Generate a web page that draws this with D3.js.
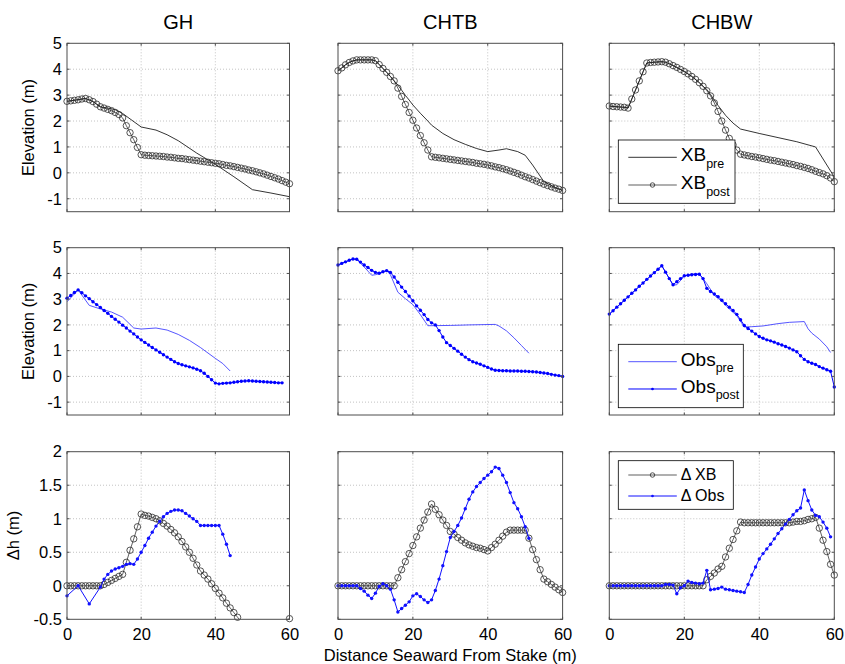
<!DOCTYPE html>
<html>
<head>
<meta charset="utf-8">
<script src="https://cdn.jsdelivr.net/npm/d3@7"></script>
<style>
  body { margin: 0; background: #fff; }
  svg { display: block; }
  text { font-family: "Liberation Sans", Arial, Helvetica, sans-serif; fill: #000; }
</style>
</head>
<body>
<svg id="chart" width="845" height="664"></svg>
<script>
// ---------- data ----------
const sites = ["GH", "CHTB", "CHBW"];
const xTicks = [0, 20, 40, 60];
const elevTicks = [-1, 0, 1, 2, 3, 4, 5];
const dhTicks = [-0.5, 0, 0.5, 1, 1.5, 2];

// model grid (m seaward of stake)
const modelDist = [0,1,2,3,4,5,6,7,8,9,10,11,12,13,14,15,16,17,18,19,20,21,22,23,24,25,26,27,28,29,30,
  31,32,33,34,35,36,37,38,39,40,41,42,43,44,45,46,47,48,49,50,51,52,53,54,55,56,57,58,59,60];

// XBeach post-storm profiles (m)
const ghXbPost = [2.76,2.78,2.80,2.82,2.85,2.87,2.82,2.75,2.65,2.55,2.50,2.45,2.40,2.33,2.25,2.12,1.82,1.55,1.28,0.98,
  0.70,0.68,0.67,0.66,0.65,0.64,0.63,0.61,0.60,0.58,0.56,0.55,0.53,0.51,0.49,0.47,0.45,0.43,0.41,0.39,
  0.37,0.35,0.32,0.29,0.27,0.24,0.21,0.18,0.15,0.11,0.08,0.04,0.00,-0.04,-0.09,-0.14,-0.19,-0.24,-0.30,-0.36,-0.42];
const chtbXbPost = [3.94,4.05,4.17,4.26,4.32,4.36,4.36,4.36,4.36,4.36,4.33,4.18,4.03,3.88,3.72,3.55,3.27,2.95,2.64,2.33,
  2.03,1.73,1.44,1.16,0.88,0.62,0.60,0.58,0.56,0.54,0.52,0.50,0.48,0.46,0.44,0.42,0.40,0.37,0.35,0.33,
  0.30,0.27,0.23,0.20,0.16,0.12,0.07,0.02,-0.03,-0.09,-0.15,-0.20,-0.26,-0.32,-0.38,-0.44,-0.49,-0.54,-0.59,-0.63,-0.68];
const chbwXbPost = [2.58,2.56,2.55,2.54,2.53,2.50,2.85,3.20,3.55,3.90,4.24,4.26,4.27,4.28,4.29,4.27,4.21,4.14,4.07,3.99,
  3.91,3.82,3.72,3.61,3.48,3.34,3.17,2.97,2.70,2.37,2.00,1.65,1.33,1.08,0.88,0.72,0.69,0.66,0.63,0.61,
  0.58,0.55,0.52,0.49,0.47,0.44,0.41,0.38,0.35,0.32,0.28,0.25,0.21,0.17,0.12,0.06,0.01,-0.04,-0.11,-0.20,-0.34];

// XBeach pre-storm profiles [distance, elevation]
const ghXbPre = [[0,2.76],[5,2.87],[7,2.75],[9,2.55],[11,2.50],[13,2.44],[15,2.29],[20,1.77],[24,1.65],[27,1.47],
  [30,1.24],[35,0.76],[40,0.33],[45,-0.15],[50,-0.65],[55,-0.78],[60,-0.92]];
const chtbXbPre = [[0,3.94],[1,4.05],[2,4.17],[3,4.26],[4,4.32],[5,4.36],[9,4.36],[10,4.33],[11,4.18],[12,4.03],
  [13,3.88],[14,3.72],[15,3.55],[16,3.39],[17,3.19],[18,2.99],[19,2.81],[20,2.62],[22,2.30],[24,2.00],[25,1.84],
  [28,1.52],[31,1.28],[34,1.10],[37,0.94],[40,0.82],[43,0.88],[45,0.93],[48,0.82],[50,0.68],[52,0.30],[55,-0.34],
  [58,-0.56],[60,-0.68]];
const chbwXbPre = [[0,2.58],[1,2.56],[2,2.55],[3,2.54],[4,2.53],[5,2.50],[6,2.85],[7,3.20],[8,3.55],[9,3.90],
  [10,4.24],[12,4.27],[14,4.29],[15,4.27],[16,4.21],[18,4.07],[20,3.91],[22,3.72],[24,3.48],[25,3.34],[26,3.22],
  [27,3.02],[29,2.60],[31,2.22],[33,1.92],[35,1.69],[40,1.52],[45,1.36],[50,1.20],[55,1.00],[60,-0.16]];

// observed post-storm profiles (same 1 m spacing, from the stake)
const ghObsPost = [3.04,3.14,3.26,3.36,3.25,3.13,3.02,2.90,2.79,2.68,2.56,2.45,2.33,2.22,2.11,1.99,1.88,1.76,1.65,1.53,
  1.42,1.32,1.22,1.12,1.03,0.94,0.84,0.75,0.66,0.57,0.50,0.45,0.41,0.37,0.33,0.28,0.22,0.12,0.00,-0.13,
  -0.26,-0.29,-0.27,-0.26,-0.25,-0.23,-0.21,-0.19,-0.18,-0.17,-0.18,-0.19,-0.20,-0.21,-0.22,-0.23,-0.24,-0.25,-0.25];
const chtbObsPost = [4.33,4.39,4.45,4.51,4.56,4.55,4.44,4.33,4.23,4.12,4.04,4.01,4.07,4.11,4.04,3.86,3.66,3.47,3.30,3.12,
  2.94,2.74,2.57,2.40,2.21,2.08,2.00,1.78,1.53,1.31,1.20,1.09,0.98,0.86,0.75,0.65,0.57,0.52,0.47,0.41,
  0.35,0.29,0.24,0.23,0.22,0.22,0.21,0.21,0.21,0.20,0.20,0.19,0.18,0.17,0.15,0.13,0.11,0.08,0.05,0.03,0.00];
const chbwObsPost = [2.42,2.55,2.69,2.82,2.96,3.09,3.23,3.36,3.50,3.63,3.77,3.90,4.03,4.16,4.30,4.05,3.80,3.56,3.68,3.80,
  3.91,3.93,3.95,3.96,3.97,3.80,3.42,3.30,3.20,3.10,2.96,2.82,2.69,2.56,2.41,2.20,1.98,1.86,1.76,1.65,
  1.55,1.48,1.42,1.38,1.33,1.27,1.22,1.16,1.10,1.03,0.96,0.80,0.66,0.57,0.51,0.46,0.38,0.32,0.26,0.20,-0.41];

// observed pre-storm profiles [distance, elevation]
const ghObsPre = [[0,2.90],[3,3.36],[6,2.76],[9,2.62],[12,2.50],[15,2.30],[18,1.88],[20,1.84],[24,1.88],[27,1.80],
  [30,1.63],[33,1.40],[36,1.12],[40,0.70],[42,0.50],[44,0.21]];
const chtbObsPre = [[0,4.33],[2,4.45],[4,4.56],[5,4.55],[7,4.25],[9,3.93],[10,3.95],[12,4.04],[13,4.11],[14,3.95],
  [16,3.27],[18,3.02],[20,2.79],[22,2.40],[24,1.97],[25,1.97],[30,1.98],[35,2.00],[42,2.02],[43,1.96],[45,1.77],
  [47,1.50],[49,1.20],[51,0.90]];
const chbwObsPre = [[0,2.42],[14,4.30],[17,3.55],[18,3.56],[20,3.90],[22,3.97],[24,3.98],[25,3.80],[26,3.60],
  [28,3.15],[30,2.92],[32,2.62],[34,2.36],[36,1.92],[38,1.93],[41,1.96],[45,2.05],[48,2.10],[52,2.13],[53,1.85],
  [54,1.68],[56,1.45],[58,1.15],[59,0.93]];

// elevation change, pre minus post (m)
const ghDeltaXb = [0,0,0,0,0,0,0,0,0,0,0.02,0.05,0.08,0.11,0.14,0.17,0.35,0.53,0.70,0.88,
  1.07,1.05,1.04,1.02,1.00,0.97,0.93,0.89,0.84,0.79,0.73,0.66,0.58,0.50,0.41,0.31,0.22,0.16,0.10,0.03,
  -0.04,-0.11,-0.18,-0.26,-0.33,-0.40,-0.47,-0.54,-0.61,-0.67,-0.73,-0.72,-0.70,-0.68,-0.66,-0.64,-0.61,-0.58,-0.55,-0.52,-0.49];
const chtbDeltaXb = [0,0,0,0,0,0,0,0,0,0,0,0,0,0,0,0,0.12,0.24,0.36,0.48,
  0.60,0.73,0.86,0.98,1.10,1.22,1.14,1.06,0.98,0.90,0.81,0.77,0.72,0.68,0.64,0.61,0.59,0.57,0.56,0.54,
  0.52,0.57,0.62,0.68,0.74,0.80,0.83,0.83,0.83,0.83,0.83,0.71,0.54,0.39,0.24,0.10,0.06,0.02,-0.02,-0.06,-0.10];
const chbwDeltaXb = [0,0,0,0,0,0,0,0,0,0,0,0,0,0,0,0,0,0,0,0,
  0,0,0,0,0,0,0.09,0.14,0.19,0.25,0.29,0.43,0.56,0.69,0.82,0.95,0.94,0.94,0.94,0.94,
  0.94,0.94,0.94,0.94,0.94,0.94,0.94,0.94,0.94,0.95,0.96,0.96,0.97,0.99,1.00,1.02,0.86,0.68,0.51,0.32,0.16];

const ghDeltaObs = [[0,-0.15],[3,0.00],[6,-0.27],[9,-0.02],[10,0.10],[11,0.17],[12,0.22],[13,0.25],[14,0.27],
  [15,0.29],[16,0.32],[17,0.33],[18,0.32],[19,0.40],[20,0.50],[21,0.60],[22,0.71],[23,0.80],[24,0.89],[25,0.96],
  [26,1.03],[27,1.08],[28,1.11],[29,1.13],[30,1.13],[31,1.12],[32,1.08],[33,1.04],[34,1.00],[35,0.96],[36,0.90],
  [37,0.90],[38,0.90],[39,0.90],[40,0.90],[41,0.90],[42,0.77],[43,0.62],[44,0.45]];
const chtbDeltaObs = [0,0,0,0,0,0,-0.04,-0.08,-0.14,-0.19,-0.11,-0.01,0.03,0.00,-0.05,-0.21,-0.39,-0.34,-0.29,-0.24,
  -0.15,-0.12,-0.16,-0.21,-0.25,-0.21,-0.07,0.10,0.30,0.51,0.72,0.81,0.90,1.01,1.15,1.29,1.40,1.48,1.54,1.60,
  1.65,1.70,1.77,1.75,1.65,1.54,1.39,1.24,1.15,1.03,0.88,0.71];
const chbwDeltaObs = [0,0,0,0,0,0,0,0,0,0,0,0,0,0,0,0.02,0.02,0.01,-0.12,-0.03,
  0.00,0.07,0.05,0.04,0.03,0.04,0.23,-0.06,-0.05,-0.04,-0.02,-0.05,-0.06,-0.07,-0.08,-0.09,-0.10,0.02,0.16,0.28,
  0.40,0.48,0.55,0.62,0.70,0.78,0.85,0.92,0.99,1.06,1.12,1.16,1.43,1.27,1.13,1.05,1.03,0.95,0.86,0.73];

// ---------- layout ----------
const svg = d3.select("#chart");
const colLeft = [67, 338, 609.3];
const colWidth = [222.5, 224.6, 225];
const rowTop = [43.3, 247.7, 451.7];
const rowHeight = [168.4, 167.3, 167.6];
const yDomains = [[-1.5, 5], [-1.5, 5], [-0.5, 2]];
const yTickSets = [elevTicks, elevTicks, dhTicks];
const fmt = d => String(d);
const axisFont = 16.5;

const styles = {
  xbPre:   { stroke: "#000", width: 0.8 },
  xbPost:  { stroke: "#1a1a1a", width: 0.7, marker: "circle" },
  obsPre:  { stroke: "#2a2aff", width: 0.8 },
  obsPost: { stroke: "#0000ff", width: 1.0, marker: "dot" },
  dXb:     { stroke: "#1a1a1a", width: 0.7, marker: "circle" },
  dObs:    { stroke: "#1010ff", width: 1.0, marker: "dot" }
};

const onGrid = ys => ys.map((v, i) => [modelDist[i], v]);

const panels = [
  [ [[ghXbPre, "xbPre"], [onGrid(ghXbPost), "xbPost"]],
    [[chtbXbPre, "xbPre"], [onGrid(chtbXbPost), "xbPost"]],
    [[chbwXbPre, "xbPre"], [onGrid(chbwXbPost), "xbPost"]] ],
  [ [[ghObsPre, "obsPre"], [onGrid(ghObsPost), "obsPost"]],
    [[chtbObsPre, "obsPre"], [onGrid(chtbObsPost), "obsPost"]],
    [[chbwObsPre, "obsPre"], [onGrid(chbwObsPost), "obsPost"]] ],
  [ [[onGrid(ghDeltaXb), "dXb"], [ghDeltaObs, "dObs"]],
    [[onGrid(chtbDeltaXb), "dXb"], [onGrid(chtbDeltaObs), "dObs"]],
    [[onGrid(chbwDeltaXb), "dXb"], [onGrid(chbwDeltaObs), "dObs"]] ]
];

function drawMarker(sel, kind, st, cx, cy, scale) {
  if (kind === "circle") {
    sel.append("circle").attr("cx", cx).attr("cy", cy).attr("r", 3.2 * scale)
      .attr("fill", "none").attr("stroke", "#2b2b2b").attr("stroke-width", 0.8);
  } else if (kind === "dot") {
    sel.append("circle").attr("cx", cx).attr("cy", cy).attr("r", 1.7 * scale)
      .attr("fill", st.stroke).attr("stroke", "none");
  }
}

for (let r = 0; r < 3; r++) {
  for (let c = 0; c < 3; c++) {
    const w = colWidth[c], h = rowHeight[r];
    const g = svg.append("g").attr("transform", `translate(${colLeft[c]},${rowTop[r]})`);
    const x = d3.scaleLinear().domain([0, 60]).range([0, w]);
    const y = d3.scaleLinear().domain(yDomains[r]).range([h, 0]);
    const clipId = `clip-${r}-${c}`;
    g.append("clipPath").attr("id", clipId).append("rect").attr("width", w).attr("height", h);

    g.append("rect").attr("width", w).attr("height", h).attr("fill", "#fff");

    // dotted grid
    const grid = g.append("g").attr("stroke", "#b4b4b4").attr("stroke-width", 0.8).attr("stroke-dasharray", "1,2");
    xTicks.filter(t => t > 0 && t < 60).forEach(t =>
      grid.append("line").attr("x1", x(t)).attr("x2", x(t)).attr("y1", 0).attr("y2", h));
    yTickSets[r].filter(t => t > yDomains[r][0] && t < yDomains[r][1]).forEach(t =>
      grid.append("line").attr("x1", 0).attr("x2", w).attr("y1", y(t)).attr("y2", y(t)));

    // series
    panels[r][c].forEach(([pts, key]) => {
      const st = styles[key];
      g.append("path").datum(pts)
        .attr("clip-path", `url(#${clipId})`)
        .attr("fill", "none").attr("stroke", st.stroke).attr("stroke-width", st.width)
        .attr("stroke-linejoin", "round")
        .attr("d", d3.line().x(d => x(d[0])).y(d => y(d[1])));
      if (st.marker) {
        const mg = g.append("g");
        pts.filter(d => d[1] >= yDomains[r][0] - 0.011 && d[1] <= yDomains[r][1])
          .forEach(d => drawMarker(mg, st.marker, st, x(d[0]), y(d[1]), 1));
      }
    });

    // axes box and inward ticks
    const axisG = g.append("g").attr("stroke", "#4d4d4d").attr("stroke-width", 1);
    axisG.append("rect").attr("width", w).attr("height", h).attr("fill", "none");
    const tl = 2.5;
    xTicks.forEach(t => {
      axisG.append("line").attr("x1", x(t)).attr("x2", x(t)).attr("y1", h).attr("y2", h - tl);
      axisG.append("line").attr("x1", x(t)).attr("x2", x(t)).attr("y1", 0).attr("y2", tl);
    });
    yTickSets[r].forEach(t => {
      axisG.append("line").attr("x1", 0).attr("x2", tl).attr("y1", y(t)).attr("y2", y(t));
      axisG.append("line").attr("x1", w).attr("x2", w - tl).attr("y1", y(t)).attr("y2", y(t));
    });

    // tick labels
    if (r === 2) {
      g.append("g").attr("transform", `translate(0,${h})`)
        .call(d3.axisBottom(x).tickValues(xTicks).tickFormat(fmt).tickSize(0).tickPadding(9))
        .call(a => a.select(".domain").remove())
        .call(a => a.selectAll("text").attr("font-size", axisFont)
          .attr("font-family", '"Liberation Sans", Arial, sans-serif').attr("fill", "#000"));
    }
    if (c === 0) {
      g.append("g")
        .call(d3.axisLeft(y).tickValues(yTickSets[r]).tickFormat(fmt).tickSize(0).tickPadding(5))
        .call(a => a.select(".domain").remove())
        .call(a => a.selectAll("text").attr("font-size", axisFont)
          .attr("font-family", '"Liberation Sans", Arial, sans-serif').attr("fill", "#000"));
    }
    if (r === 0) {
      svg.append("text").attr("x", colLeft[c] + w / 2).attr("y", 29)
        .attr("text-anchor", "middle").attr("font-size", 20).text(sites[c]);
    }
  }
}

// axis titles
const yLabels = ["Elevation (m)", "Elevation (m)", "\u0394h (m)"];
const yLabelX = [34, 34, 19];
yLabels.forEach((t, r) => {
  const cy = rowTop[r] + rowHeight[r] / 2;
  svg.append("text").attr("transform", `translate(${yLabelX[r]},${cy}) rotate(-90)`)
    .attr("text-anchor", "middle").attr("font-size", axisFont).text(t);
});
svg.append("text").attr("x", colLeft[1] + colWidth[1] / 2).attr("y", 661)
  .attr("text-anchor", "middle").attr("font-size", axisFont).text("Distance Seaward From Stake (m)");

// ---------- legends (upper/lower right panels) ----------
function legend(box, entries, fs, subFs, textDy) {
  const g = svg.append("g").attr("transform", `translate(${box[0]},${box[1]})`);
  g.append("rect").attr("width", box[2]).attr("height", box[3])
    .attr("fill", "#fff").attr("stroke", "#000").attr("stroke-width", 0.8);
  entries.forEach(e => {
    const st = styles[e.style];
    const ly = e.y - box[1];
    g.append("line").attr("x1", 10).attr("x2", 58.5).attr("y1", ly).attr("y2", ly)
      .attr("stroke", st.stroke).attr("stroke-width", st.width);
    if (st.marker) drawMarker(g, st.marker, st, 34.2, ly, st.marker === "circle" ? 0.7 : 0.8);
    const t = g.append("text").attr("x", 62.5).attr("y", ly + textDy).attr("font-size", fs);
    t.append("tspan").text(e.main);
    if (e.sub) t.append("tspan").attr("dy", 6.5).attr("font-size", subFs).text(e.sub);
  });
}
legend([618.3, 140, 116.7, 63.3],
  [{ main: "XB", sub: "pre", style: "xbPre", y: 157.3 }, { main: "XB", sub: "post", style: "xbPost", y: 185 }],
  19, 12.5, 4);
legend([618.3, 344.3, 125, 63.4],
  [{ main: "Obs", sub: "pre", style: "obsPre", y: 361.7 }, { main: "Obs", sub: "post", style: "obsPost", y: 389 }],
  19, 12.5, 4);
legend([618.3, 460.7, 115, 48.6],
  [{ main: "\u0394 XB", style: "dXb", y: 475 }, { main: "\u0394 Obs", style: "dObs", y: 496 }],
  16, 12, 5.5);
</script>
</body>
</html>
